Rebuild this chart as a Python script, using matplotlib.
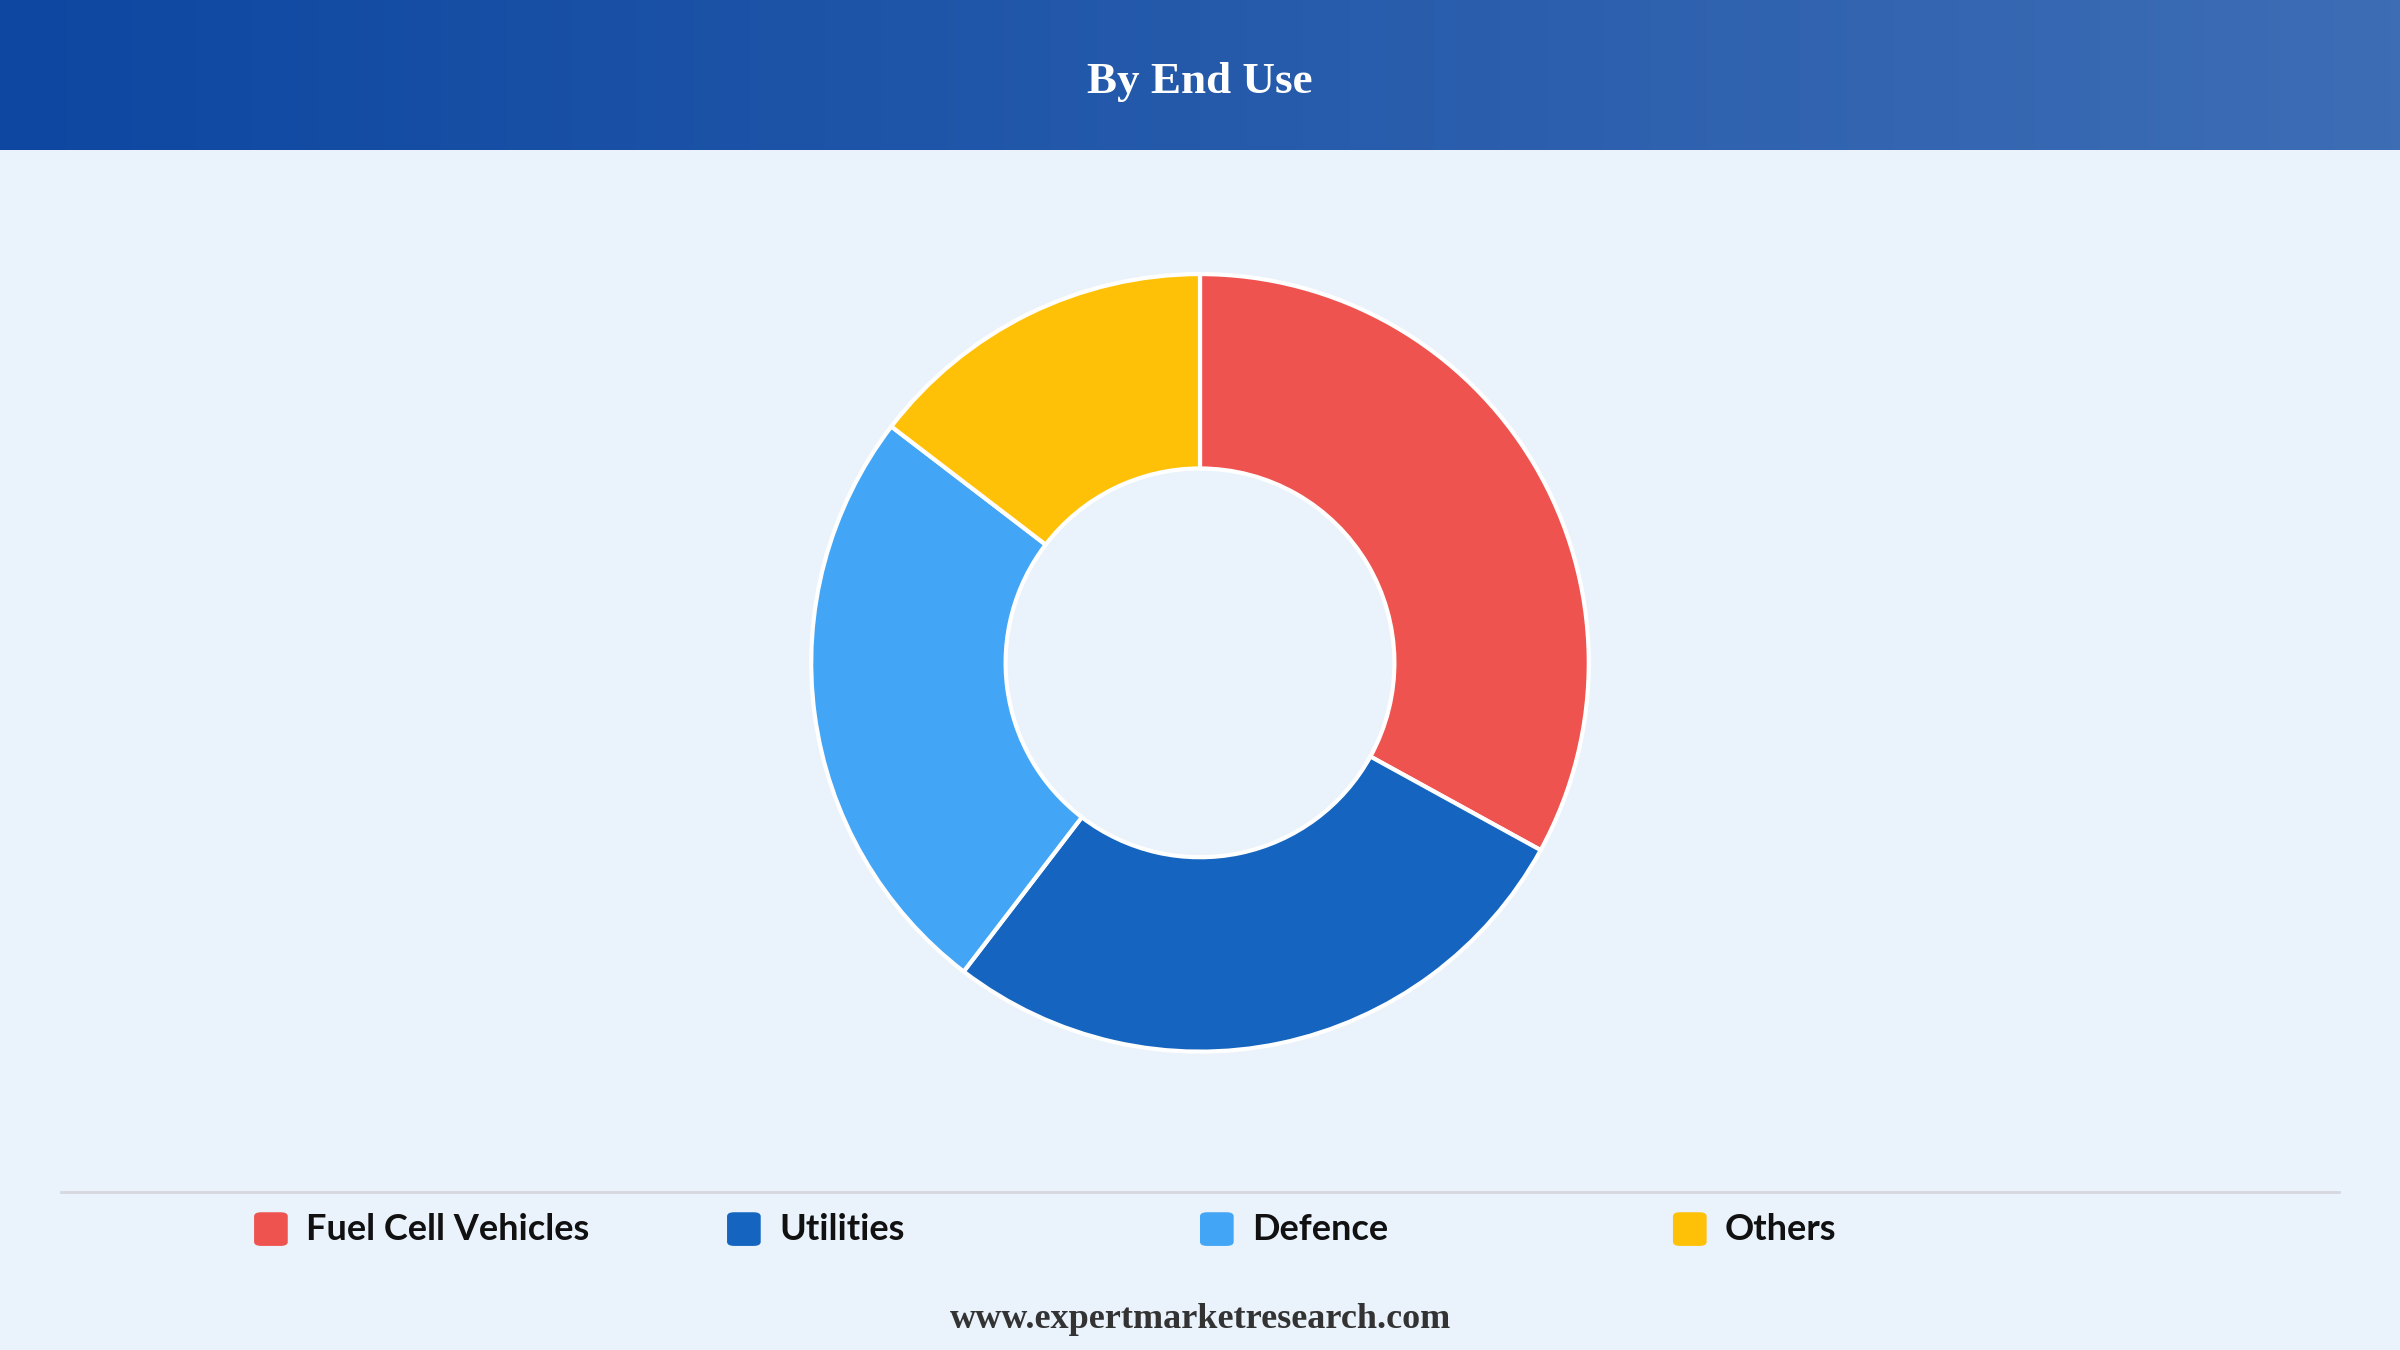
import matplotlib
matplotlib.use("Agg")
import matplotlib.pyplot as plt
import numpy as np
from matplotlib.patches import FancyBboxPatch
from matplotlib.colors import LinearSegmentedColormap

categories = ["Fuel Cell Vehicles", "Utilities", "Defence", "Others"]
values = [33, 27.4, 25, 14.6]
colors = ["#ef5350", "#1565c0", "#42a5f5", "#ffc107"]

fig = plt.figure(figsize=(24, 13.5), dpi=100)
fig.patch.set_facecolor("#eaf2fb")

# header gradient
hax = fig.add_axes([0, 1 - 98/882, 1, 98/882])
grad = np.linspace(0, 1, 256).reshape(1, -1)
cmap = LinearSegmentedColormap.from_list("h", ["#0d47a1", "#3d6db5"])
hax.imshow(grad, aspect="auto", cmap=cmap, extent=[0, 1, 0, 1])
hax.axis("off")
hax.text(0.5, 0.45, "By End Use", ha="center", va="center", color="white",
         fontsize=32.5, fontweight="bold", family="Liberation Serif")

# donut
r = 254 / 882 * 1350
w, h = 2 * r / 2400, 2 * r / 1350
ax = fig.add_axes([0.5 - w/2 - 0.01*w, 0.509 - h/2 - 0.01*h, w*1.02, h*1.02])
ax.pie(values, colors=colors, startangle=90, counterclock=False, radius=1,
       wedgeprops=dict(width=0.5, edgecolor="white", linewidth=3))
ax.set_xlim(-1.02, 1.02); ax.set_ylim(-1.02, 1.02)
ax.set_aspect("equal")

# separator
fig.add_artist(plt.Line2D([40/1568, 1528/1568], [1 - 779/882]*2, color="#d5d9de", linewidth=2))

# legend
ly = 1 - 803/882
xs = [177, 486, 795, 1104]
sq = 22 / 1568
for x, c, lab in zip(xs, colors, categories):
    fx = x / 1568
    fig.add_artist(FancyBboxPatch((fx - sq/2, ly - sq*2400/1350/2), sq, sq*2400/1350,
                                  boxstyle="round,pad=0,rounding_size=0.003",
                                  transform=fig.transFigure, facecolor=c, edgecolor="none"))
    fig.text(fx + 23/1568, ly, lab, ha="left", va="center", fontsize=26,
             fontweight="bold", family="Lato", color="#111111")

fig.text(0.5, 1 - 862/882, "www.expertmarketresearch.com", ha="center", va="center",
         fontsize=26, fontweight="bold", family="Liberation Serif", color="#333333")

fig.savefig("out.png", dpi=100, facecolor=fig.get_facecolor())
